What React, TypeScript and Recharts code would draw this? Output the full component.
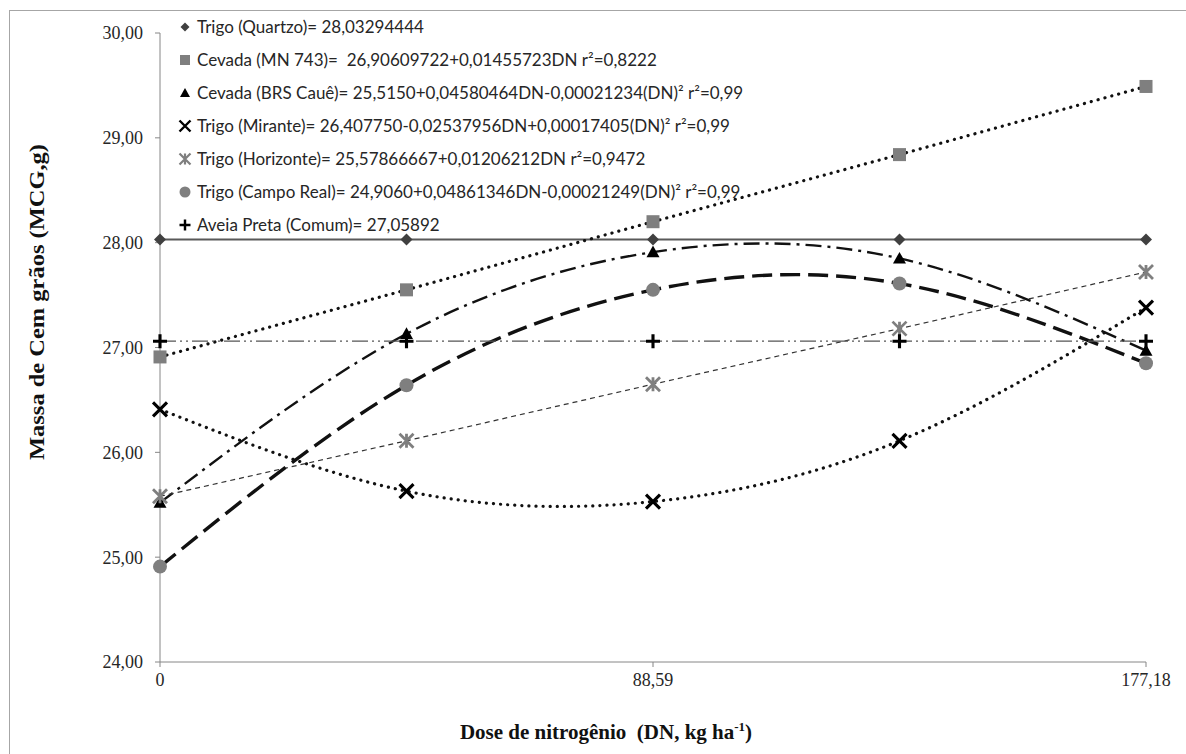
import React from 'react';
import { LineChart, Line, XAxis, YAxis } from 'recharts';

// doses de N (kg/ha) nos pontos medidos
const doses = [0, 44.295, 88.59, 132.885, 177.18];
const xTicks = [0, 88.59, 177.18];
const yTicks = [24, 25, 26, 27, 28, 29, 30];

// massa de cem grãos (g)
const quartzo = [28.03, 28.03, 28.03, 28.03, 28.03];
const mn743 = [26.91, 27.55, 28.2, 28.84, 29.49];
const brsCaue = [25.52, 27.13, 27.91, 27.85, 26.97];
const mirante = [26.41, 25.63, 25.53, 26.11, 27.38];
const horizonte = [25.58, 26.11, 26.65, 27.18, 27.72];
const campoReal = [24.91, 26.64, 27.55, 27.61, 26.85];
const aveia = [27.06, 27.06, 27.06, 27.06, 27.06];

const legendLabels = [
  'Trigo (Quartzo)= 28,03294444',
  'Cevada (MN 743)=  26,90609722+0,01455723DN r²=0,8222',
  'Cevada (BRS Cauê)= 25,5150+0,04580464DN-0,00021234(DN)² r²=0,99',
  'Trigo (Mirante)= 26,407750-0,02537956DN+0,00017405(DN)² r²=0,99',
  'Trigo (Horizonte)= 25,57866667+0,01206212DN r²=0,9472',
  'Trigo (Campo Real)= 24,9060+0,04861346DN-0,00021249(DN)² r²=0,99',
  'Aveia Preta (Comum)= 27,05892',
];

type Shape = 'diamond' | 'square' | 'triangle' | 'x' | 'asterisk' | 'circle' | 'plus';

type Serie = {
  key: string;
  values: number[];
  shape: Shape;
  markColor: string;
  stroke: string;
  width: number;
  dash?: string;
  cap?: 'round' | 'butt';
  curve: 'linear' | 'natural';
};

const SERIES: Serie[] = [
  { key: 'quartzo', values: quartzo, shape: 'diamond', markColor: '#404040', stroke: '#595959', width: 2, curve: 'linear' },
  { key: 'mn743', values: mn743, shape: 'square', markColor: '#7f7f7f', stroke: '#111', width: 3.2, dash: '0.1 7', cap: 'round', curve: 'linear' },
  { key: 'brsCaue', values: brsCaue, shape: 'triangle', markColor: '#000', stroke: '#111', width: 2.4, dash: '16 6 3 6', curve: 'natural' },
  { key: 'mirante', values: mirante, shape: 'x', markColor: '#000', stroke: '#111', width: 3.2, dash: '0.1 7', cap: 'round', curve: 'natural' },
  { key: 'horizonte', values: horizonte, shape: 'asterisk', markColor: '#7f7f7f', stroke: '#333', width: 1.2, dash: '5 4', curve: 'linear' },
  { key: 'campoReal', values: campoReal, shape: 'circle', markColor: '#7f7f7f', stroke: '#111', width: 3.4, dash: '20 8', curve: 'natural' },
  { key: 'aveia', values: aveia, shape: 'plus', markColor: '#000', stroke: '#555', width: 1.2, dash: '16 4 2 4 2 4', curve: 'linear' },
];

const data = doses.map((dose, i) => {
  const row: Record<string, number> = { dose };
  SERIES.forEach((s) => (row[s.key] = s.values[i]));
  return row;
});

const comma = (v: number, d?: number) => (d === undefined ? String(v) : v.toFixed(d)).replace('.', ',');

function Marker({ shape, cx, cy, size, color }: { shape: Shape; cx: number; cy: number; size: number; color: string }) {
  const h = size / 2;
  switch (shape) {
    case 'diamond':
      return <polygon points={`${cx},${cy - h} ${cx + h},${cy} ${cx},${cy + h} ${cx - h},${cy}`} fill={color} />;
    case 'square':
      return <rect x={cx - h} y={cy - h} width={size} height={size} fill={color} />;
    case 'triangle':
      return <polygon points={`${cx},${cy - h} ${cx + h},${cy + h * 0.8} ${cx - h},${cy + h * 0.8}`} fill={color} />;
    case 'circle':
      return <circle cx={cx} cy={cy} r={h} fill={color} />;
    case 'x':
      return (
        <path d={`M${cx - h},${cy - h}L${cx + h},${cy + h}M${cx + h},${cy - h}L${cx - h},${cy + h}`} stroke={color} strokeWidth={size / 4.5} />
      );
    case 'asterisk':
      return (
        <path
          d={`M${cx - h},${cy - h}L${cx + h},${cy + h}M${cx + h},${cy - h}L${cx - h},${cy + h}M${cx},${cy - h}L${cx},${cy + h}`}
          stroke={color}
          strokeWidth={size / 5}
        />
      );
    case 'plus':
      return <path d={`M${cx - h},${cy}L${cx + h},${cy}M${cx},${cy - h}L${cx},${cy + h}`} stroke={color} strokeWidth={size / 4.5} />;
  }
  return null;
}

const markSize: Record<Shape, number> = { diamond: 12, square: 13, triangle: 13, x: 14, asterisk: 14, circle: 14, plus: 14 };
const serif = '"Liberation Serif", "Times New Roman", serif';

export default function App() {
  return (
    <div style={{ position: 'absolute', left: 0, top: 0, width: 1186, height: 754, overflow: 'hidden', background: '#fff' }}>
      <div
        style={{ position: 'absolute', left: 9, top: 10, width: 1300, height: 900, border: '1px solid #a6a6a6' }}
      />
      <div style={{ position: 'absolute', left: 0, top: 0 }}>
        <LineChart width={1186} height={754} data={data} margin={{ top: 33, right: 40, bottom: 62, left: 0 }}>
          <XAxis
            dataKey="dose"
            type="number"
            domain={[0, 177.18]}
            ticks={xTicks}
            tickFormatter={(v) => comma(v)}
            height={30}
            tickSize={5}
            tickMargin={6}
            axisLine={{ stroke: '#868686' }}
            tickLine={{ stroke: '#868686' }}
            tick={{ fill: '#262626', fontSize: 18, fontFamily: serif }}
          />
          <YAxis
            type="number"
            domain={[24, 30]}
            ticks={yTicks}
            tickFormatter={(v) => comma(v, 2)}
            width={160}
            tickSize={5}
            tickMargin={12}
            axisLine={{ stroke: '#868686' }}
            tickLine={{ stroke: '#868686' }}
            tick={{ fill: '#262626', fontSize: 18, fontFamily: serif }}
          />
          {SERIES.map((s) => (
            <Line
              key={s.key}
              dataKey={s.key}
              type={s.curve}
              stroke={s.stroke}
              strokeWidth={s.width}
              strokeDasharray={s.dash}
              strokeLinecap={s.cap ?? 'butt'}
              isAnimationActive={false}
              activeDot={false}
              dot={(p: any) => (
                <g key={`${s.key}-${p.index}`}>
                  <Marker shape={s.shape} cx={p.cx} cy={p.cy} size={markSize[s.shape]} color={s.markColor} />
                </g>
              )}
            />
          ))}
        </LineChart>
      </div>
      <svg width={1186} height={754} style={{ position: 'absolute', left: 0, top: 0, pointerEvents: 'none' }}>
        {legendLabels.map((label, i) => {
          const y = 27 + i * 33;
          const s = SERIES[i];
          return (
            <g key={label}>
              <Marker shape={s.shape} cx={185} cy={y} size={markSize[s.shape] - 3} color={s.markColor} />
              <text x={197} y={y + 6} fontSize={17} fontFamily="Lato, sans-serif" fill="#262626" style={{ whiteSpace: 'pre' }}>
                {label}
              </text>
            </g>
          );
        })}
        <text
          transform="translate(44,302) rotate(-90)"
          textAnchor="middle"
          fontSize={20}
          fontWeight="bold"
          fontFamily={serif}
          fill="#111"
          textLength={316}
          lengthAdjust="spacingAndGlyphs"
        >
          Massa de Cem grãos (MCG,g)
        </text>
        <text x={606} y={739} textAnchor="middle" fontSize={21} fontWeight="bold" fontFamily={serif} fill="#111" style={{ whiteSpace: 'pre' }}>
          Dose de nitrogênio  (DN, kg ha
          <tspan dy={-8} fontSize={13}>-1</tspan>
          <tspan dy={8}>)</tspan>
        </text>
      </svg>
    </div>
  );
}
